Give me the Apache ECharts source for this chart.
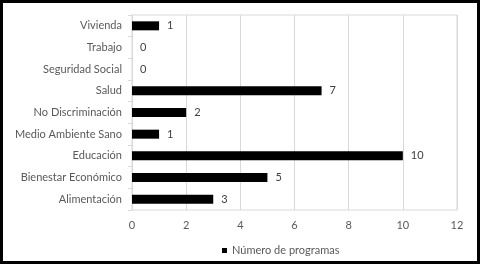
<!DOCTYPE html>
<html><head><meta charset="utf-8">
<script src="https://cdn.jsdelivr.net/npm/echarts@6/dist/echarts.min.js"></script>
<style>
html,body{margin:0;padding:0;background:#fff;}
#wrap{width:480px;height:264px;box-sizing:border-box;border:3px solid #000;background:#fff;position:relative;}
#c{position:absolute;left:-3px;top:-3px;width:480px;height:264px;}
</style></head>
<body><div id="wrap"><div id="c"></div></div>
<script>
const categories = ["Alimentación","Bienestar Económico","Educación","Medio Ambiente Sano","No Discriminación","Salud","Seguridad Social","Trabajo","Vivienda"];
const values = [3,5,10,1,2,7,0,0,1];
const seriesName = "Número de programas";
const xTicks = {min:0, max:12, interval:2};

const chart = echarts.init(document.getElementById('c'), null, {renderer:'canvas'});
const font = "Lato, 'Open Sans', sans-serif";
chart.setOption({
  animation:false,
  textStyle:{fontFamily:font},
  grid:{left:132,right:23,top:15,bottom:54,show:true,borderColor:'#d9d9d9',borderWidth:1,containLabel:false},
  legend:{data:[seriesName],left:217,top:240,itemWidth:5,itemHeight:5,itemGap:4,icon:'rect',
    textStyle:{fontFamily:font,fontSize:11,color:'#595959'}},
  xAxis:{type:'value',min:xTicks.min,max:xTicks.max,interval:xTicks.interval,
    axisLine:{show:false},axisTick:{show:false},
    splitLine:{show:true,lineStyle:{color:'#d9d9d9',width:1}},
    axisLabel:{color:'#595959',fontSize:11,margin:10,fontFamily:font}},
  yAxis:{type:'category',data:categories,
    axisLine:{show:true,lineStyle:{color:'#d9d9d9'}},
    axisTick:{show:true,length:4,lineStyle:{color:'#d9d9d9'}},
    axisLabel:{color:'#595959',fontSize:11,margin:10,fontFamily:font}},
  series:[{name:seriesName,type:'bar',data:values,barWidth:9,
    itemStyle:{color:'#000'},
    label:{show:true,position:'right',distance:8,color:'#404040',fontSize:11,fontFamily:font}}]
});
</script></body></html>
